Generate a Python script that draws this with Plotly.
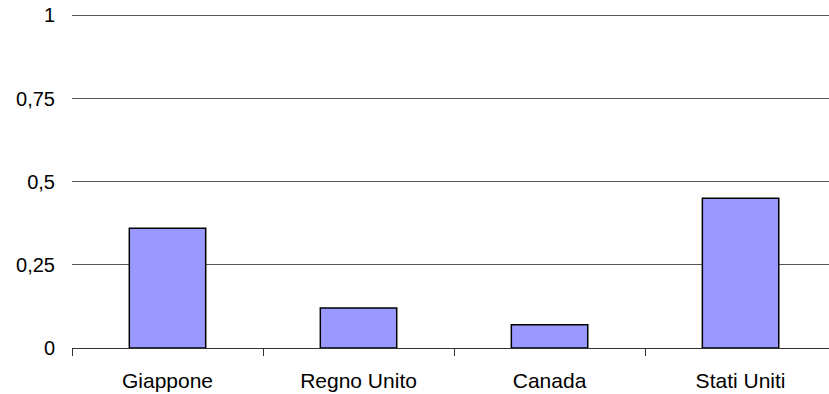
import plotly.graph_objects as go

categories = ["Giappone", "Regno Unito", "Canada", "Stati Uniti"]
values = [0.36, 0.12, 0.07, 0.45]
y_tickvals = [0, 0.25, 0.5, 0.75, 1]
y_ticktext = ["0", "0,25", "0,5", "0,75", "1"]

fig = go.Figure(
    go.Bar(
        x=categories,
        y=values,
        width=0.4,
        marker=dict(color="#9999FF", line=dict(color="#000000", width=1.5)),
    )
)

fig.update_layout(
    width=829,
    height=394,
    margin=dict(l=72, r=0, t=14, b=46),
    paper_bgcolor="white",
    plot_bgcolor="white",
    showlegend=False,
    font=dict(family="Liberation Sans, Arial, sans-serif", size=20, color="#000000"),
)

fig.update_xaxes(
    range=[-0.5, 3.463],
    showgrid=False,
    showline=True,
    linecolor="#333333",
    linewidth=1,
    ticks="outside",
    tickson="boundaries",
    ticklen=7,
    tickcolor="#333333",
    ticklabelstandoff=14,
    tickfont=dict(size=21),
    fixedrange=True,
)

fig.update_yaxes(
    range=[0, 1.004],
    tickvals=y_tickvals,
    ticktext=y_ticktext,
    showgrid=True,
    gridcolor="#555555",
    gridwidth=1,
    zeroline=False,
    showline=False,
    ticks="",
    ticklabelstandoff=16,
    fixedrange=True,
)

fig.write_html("out.html")
